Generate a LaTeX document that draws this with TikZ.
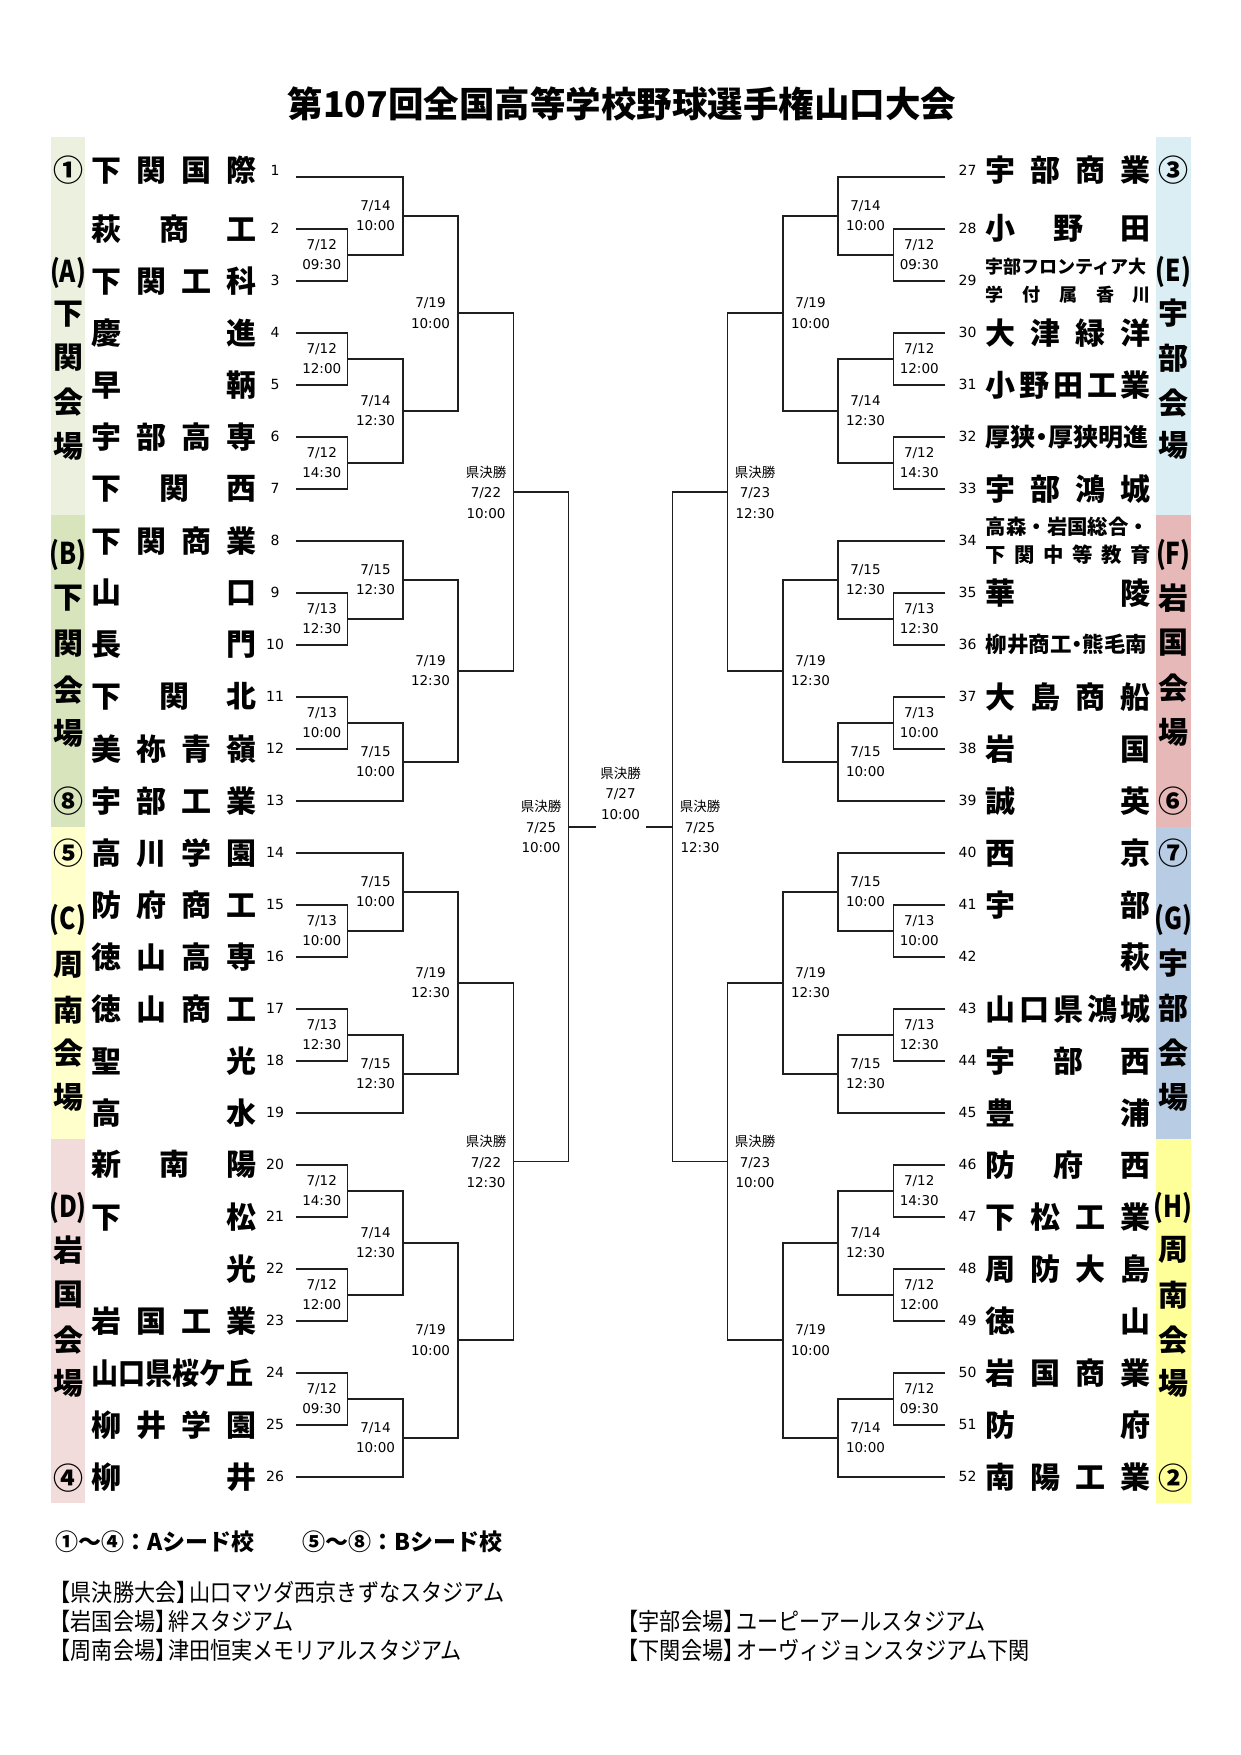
\documentclass[tikz,border=0pt]{standalone}
\usepackage{fontspec}
\usepackage{graphicx}
\newfontfamily\jp{Noto Sans CJK JP}
\newfontfamily\jpnarrow[FakeStretch=0.82]{Noto Sans CJK JP}
\newfontfamily\jpvenue[FakeStretch=0.88]{Noto Sans CJK JP}
\newfontfamily\dv{DejaVu Sans}
\definecolor{venueA}{RGB}{235,241,222}
\definecolor{venueB}{RGB}{216,228,188}
\definecolor{venueC}{RGB}{255,255,204}
\definecolor{venueD}{RGB}{242,220,219}
\definecolor{venueE}{RGB}{218,238,243}
\definecolor{venueF}{RGB}{230,184,183}
\definecolor{venueG}{RGB}{184,204,228}
\definecolor{venueH}{RGB}{255,255,153}
\usetikzlibrary{positioning}

\begin{document}
\begin{tikzpicture}[
  x=1pt, y=-1pt,
  bracket/.style={line width=1.7pt, black!88},
  team/.style={font=\jp\bfseries\fontsize{30}{30}\selectfont, text width=165pt, inner sep=0pt},
  num/.style={font=\dv\fontsize{14}{14}\selectfont, inner sep=0pt},
  date/.style={font=\dv\fontsize{13.5}{20.5}\selectfont, align=center, inner sep=0pt},
  bar/.style={font=\jp\bfseries\fontsize{30}{30}\selectfont, inner sep=0pt},
  plet/.style={font=\jpnarrow\bfseries\fontsize{30}{30}\selectfont, inner sep=0pt},
  seed/.style={font=\jp\bfseries\fontsize{23}{23}\selectfont, anchor=west, inner sep=0pt},
  venue/.style={font=\jpvenue\fontsize{24}{24}\selectfont, anchor=west, inner sep=0pt}
]
  \fill[white] (0,0) rectangle (1241,1755);
  \useasboundingbox (0,0) rectangle (1241,1755);

  % Title
  \node[font=\jp\bfseries\fontsize{35.5}{35.5}\selectfont, inner sep=0pt] (title) at (622,104) {第107回全国高等学校野球選手権山口大会};

  % Venue bars
  \fill[venueA] (51,137) rectangle (85,514.7);
  \fill[venueB] (51,514.7) rectangle (85,826.7);
  \fill[venueC] (51,826.7) rectangle (85,1138.7);
  \fill[venueD] (51,1138.7) rectangle (85,1503);
  \fill[venueE] (1156,137) rectangle (1190.7,514.7);
  \fill[venueF] (1156,514.7) rectangle (1190.7,826.7);
  \fill[venueG] (1156,826.7) rectangle (1190.7,1138.7);
  \fill[venueH] (1156,1138.7) rectangle (1190.7,1503);

  \node[plet] (pA) at (68,273) {(A)};
  \foreach \c/\y [count=\i] in {①/170,下/314,関/358,会/402,場/446}
    \node[bar] (bA\i) at (68,\y) {\c};
  \node[plet] (pB) at (68,555) {(B)};
  \foreach \c/\y [count=\i] in {下/598,関/644,会/690,場/733,⑧/801}
    \node[bar] (bB\i) at (68,\y) {\c};
  \node[plet] (pC) at (68,920) {(C)};
  \foreach \c/\y [count=\i] in {⑤/853,周/965,南/1010,会/1053,場/1097}
    \node[bar] (bC\i) at (68,\y) {\c};
  \node[plet] (pD) at (68,1208) {(D)};
  \foreach \c/\y [count=\i] in {岩/1250,国/1295,会/1340,場/1383,④/1478}
    \node[bar] (bD\i) at (68,\y) {\c};

  \node[plet] (pE) at (1173.3,272) {(E)};
  \foreach \c/\y [count=\i] in {③/170,宇/313,部/358,会/403,場/445}
    \node[bar] (bE\i) at (1173.3,\y) {\c};
  \node[plet] (pF) at (1173.3,555) {(F)};
  \foreach \c/\y [count=\i] in {岩/598,国/643,会/688,場/732,⑥/801}
    \node[bar] (bF\i) at (1173.3,\y) {\c};
  \node[plet] (pG) at (1173.3,920) {(G)};
  \foreach \c/\y [count=\i] in {⑦/853,宇/963,部/1008,会/1053,場/1097}
    \node[bar] (bG\i) at (1173.3,\y) {\c};
  \node[plet] (pH) at (1173.3,1208) {(H)};
  \foreach \c/\y [count=\i] in {周/1250,南/1295,会/1340,場/1383,②/1478}
    \node[bar] (bH\i) at (1173.3,\y) {\c};

  % Team rows: line ends and numbers
  \foreach \k in {1,...,26} {
    \pgfmathsetmacro\ry{124.7+52*\k}
    \pgfmathsetmacro\ny{\k==1 ? 170 : \ry}
    \coordinate (t\k) at (296,\ry);
    \node[num] (k\k) at (275,\ny) {\k};
  }
  \foreach \k in {27,...,52} {
    \pgfmathsetmacro\ry{124.7+52*(\k-26)}
    \pgfmathsetmacro\ny{\k==27 ? 170 : \ry}
    \coordinate (t\k) at (945,\ry);
    \node[num] (k\k) at (967.5,\ny) {\k};
  }

  % Left teams
  \node[team] (n1) at (174,170) {下\hfill 関\hfill 国\hfill 際};
  \node[team] (n2) at (174,228.7) {萩\hfill 商\hfill 工};
  \node[team] (n3) at (174,280.7) {下\hfill 関\hfill 工\hfill 科};
  \node[team] (n4) at (174,332.7) {慶\hfill 進};
  \node[team] (n5) at (174,384.7) {早\hfill 鞆};
  \node[team] (n6) at (174,436.7) {宇\hfill 部\hfill 高\hfill 専};
  \node[team] (n7) at (174,488.7) {下\hfill 関\hfill 西};
  \node[team] (n8) at (174,540.7) {下\hfill 関\hfill 商\hfill 業};
  \node[team] (n9) at (174,592.7) {山\hfill 口};
  \node[team] (n10) at (174,644.7) {長\hfill 門};
  \node[team] (n11) at (174,696.7) {下\hfill 関\hfill 北};
  \node[team] (n12) at (174,748.7) {美\hfill 祢\hfill 青\hfill 嶺};
  \node[team] (n13) at (174,800.7) {宇\hfill 部\hfill 工\hfill 業};
  \node[team] (n14) at (174,852.7) {高\hfill 川\hfill 学\hfill 園};
  \node[team] (n15) at (174,904.7) {防\hfill 府\hfill 商\hfill 工};
  \node[team] (n16) at (174,956.7) {徳\hfill 山\hfill 高\hfill 専};
  \node[team] (n17) at (174,1008.7) {徳\hfill 山\hfill 商\hfill 工};
  \node[team] (n18) at (174,1060.7) {聖\hfill 光};
  \node[team] (n19) at (174,1112.7) {高\hfill 水};
  \node[team] (n20) at (174,1164.7) {新\hfill 南\hfill 陽};
  \node[team] (n21) at (174,1216.7) {下\hfill 松};
  \node[team] (n22) at (174,1268.7) {\hfill 光\hfill};
  \node[team] (n23) at (174,1320.7) {岩\hfill 国\hfill 工\hfill 業};
  \node[team] (n24) at (174,1372.7) {\scalebox{0.9}[1]{山口県桜ケ丘}};
  \node[team] (n25) at (174,1424.7) {柳\hfill 井\hfill 学\hfill 園};
  \node[team] (n26) at (174,1476.7) {柳\hfill 井};

  % Right teams
  \node[team] (n27) at (1068.3,170) {宇\hfill 部\hfill 商\hfill 業};
  \node[team] (n28) at (1068.3,228.7) {小\hfill 野\hfill 田};
  \node[team, font=\jp\bfseries\fontsize{18}{28.3}\selectfont] (n29) at (1068.3,280.7) {宇部フロンティア大\\学\hfill 付\hfill 属\hfill 香\hfill 川};
  \node[team] (n30) at (1068.3,332.7) {大\hfill 津\hfill 緑\hfill 洋};
  \node[team] (n31) at (1068.3,384.7) {小\hfill 野\hfill 田\hfill 工\hfill 業};
  \node[team, font=\jp\bfseries\fontsize{25}{25}\selectfont] (n32) at (1068.3,436.7) {厚狭\kern-.25em・\kern-.25em厚狭明進};
  \node[team] (n33) at (1068.3,488.7) {宇\hfill 部\hfill 鴻\hfill 城};
  \node[team, font=\jp\bfseries\fontsize{20.4}{28.3}\selectfont] (n34) at (1068.3,540.7) {高森・岩国総合・\\下\hfill 関\hfill 中\hfill 等\hfill 教\hfill 育};
  \node[team] (n35) at (1068.3,592.7) {華\hfill 陵};
  \node[team, font=\jp\bfseries\fontsize{21.5}{21.5}\selectfont] (n36) at (1068.3,644.7) {柳井商工\kern-.25em・\kern-.25em熊毛南};
  \node[team] (n37) at (1068.3,696.7) {大\hfill 島\hfill 商\hfill 船};
  \node[team] (n38) at (1068.3,748.7) {岩\hfill 国};
  \node[team] (n39) at (1068.3,800.7) {誠\hfill 英};
  \node[team] (n40) at (1068.3,852.7) {西\hfill 京};
  \node[team] (n41) at (1068.3,904.7) {宇\hfill 部};
  \node[team] (n42) at (1068.3,956.7) {\hfill 萩\hfill};
  \node[team] (n43) at (1068.3,1008.7) {山\hfill 口\hfill 県\hfill 鴻\hfill 城};
  \node[team] (n44) at (1068.3,1060.7) {宇\hfill 部\hfill 西};
  \node[team] (n45) at (1068.3,1112.7) {豊\hfill 浦};
  \node[team] (n46) at (1068.3,1164.7) {防\hfill 府\hfill 西};
  \node[team] (n47) at (1068.3,1216.7) {下\hfill 松\hfill 工\hfill 業};
  \node[team] (n48) at (1068.3,1268.7) {周\hfill 防\hfill 大\hfill 島};
  \node[team] (n49) at (1068.3,1320.7) {徳\hfill 山};
  \node[team] (n50) at (1068.3,1372.7) {岩\hfill 国\hfill 商\hfill 業};
  \node[team] (n51) at (1068.3,1424.7) {防\hfill 府};
  \node[team] (n52) at (1068.3,1476.7) {南\hfill 陽\hfill 工\hfill 業};

  % Match points, left half
  \coordinate (A1) at (347.5,254.7);
  \coordinate (A2) at (347.5,358.7);
  \coordinate (A3) at (347.5,462.7);
  \coordinate (A4) at (403,215.7);
  \coordinate (A5) at (403,410.7);
  \coordinate (A6) at (458,313.2);
  \coordinate (B1) at (347.5,618.7);
  \coordinate (B2) at (347.5,722.7);
  \coordinate (B3) at (403,579.7);
  \coordinate (B4) at (403,761.7);
  \coordinate (B5) at (458,670.7);
  \coordinate (AB) at (513.5,491.95);
  \coordinate (C1) at (347.5,930.7);
  \coordinate (C2) at (347.5,1034.7);
  \coordinate (C3) at (403,891.7);
  \coordinate (C4) at (403,1073.7);
  \coordinate (C5) at (458,982.7);
  \coordinate (D1) at (347.5,1190.7);
  \coordinate (D2) at (347.5,1294.7);
  \coordinate (D3) at (347.5,1398.7);
  \coordinate (D4) at (403,1242.7);
  \coordinate (D5) at (403,1437.7);
  \coordinate (D6) at (458,1340.2);
  \coordinate (CD) at (513.5,1161.45);
  \coordinate (SL) at (568.5,826.7);

  % Match points, right half
  \coordinate (E1) at (893.5,254.7);
  \coordinate (E2) at (893.5,358.7);
  \coordinate (E3) at (893.5,462.7);
  \coordinate (E4) at (838,215.7);
  \coordinate (E5) at (838,410.7);
  \coordinate (E6) at (783,313.2);
  \coordinate (F1) at (893.5,618.7);
  \coordinate (F2) at (893.5,722.7);
  \coordinate (F3) at (838,579.7);
  \coordinate (F4) at (838,761.7);
  \coordinate (F5) at (783,670.7);
  \coordinate (EF) at (727.5,491.95);
  \coordinate (G1) at (893.5,930.7);
  \coordinate (G2) at (893.5,1034.7);
  \coordinate (G3) at (838,891.7);
  \coordinate (G4) at (838,1073.7);
  \coordinate (G5) at (783,982.7);
  \coordinate (H1) at (893.5,1190.7);
  \coordinate (H2) at (893.5,1294.7);
  \coordinate (H3) at (893.5,1398.7);
  \coordinate (H4) at (838,1242.7);
  \coordinate (H5) at (838,1437.7);
  \coordinate (H6) at (783,1340.2);
  \coordinate (GH) at (727.5,1161.45);
  \coordinate (SR) at (672.5,826.7);

  % Final
  \coordinate (fL) at (595.5,826.7);
  \coordinate (fR) at (645.5,826.7);

  % Brackets, left half
  \draw[bracket] (t2) -| (A1) |- (t3);
  \draw[bracket] (t4) -| (A2) |- (t5);
  \draw[bracket] (t6) -| (A3) |- (t7);
  \draw[bracket] (t1) -| (A4) |- (A1);
  \draw[bracket] (A2) -| (A5) |- (A3);
  \draw[bracket] (A4) -| (A6) |- (A5);
  \draw[bracket] (t9) -| (B1) |- (t10);
  \draw[bracket] (t11) -| (B2) |- (t12);
  \draw[bracket] (t8) -| (B3) |- (B1);
  \draw[bracket] (B2) -| (B4) |- (t13);
  \draw[bracket] (B3) -| (B5) |- (B4);
  \draw[bracket] (A6) -| (AB) |- (B5);
  \draw[bracket] (t15) -| (C1) |- (t16);
  \draw[bracket] (t17) -| (C2) |- (t18);
  \draw[bracket] (t14) -| (C3) |- (C1);
  \draw[bracket] (C2) -| (C4) |- (t19);
  \draw[bracket] (C3) -| (C5) |- (C4);
  \draw[bracket] (t20) -| (D1) |- (t21);
  \draw[bracket] (t22) -| (D2) |- (t23);
  \draw[bracket] (t24) -| (D3) |- (t25);
  \draw[bracket] (D1) -| (D4) |- (D2);
  \draw[bracket] (D3) -| (D5) |- (t26);
  \draw[bracket] (D4) -| (D6) |- (D5);
  \draw[bracket] (C5) -| (CD) |- (D6);
  \draw[bracket] (AB) -| (SL) |- (CD);

  % Brackets, right half
  \draw[bracket] (t28) -| (E1) |- (t29);
  \draw[bracket] (t30) -| (E2) |- (t31);
  \draw[bracket] (t32) -| (E3) |- (t33);
  \draw[bracket] (t27) -| (E4) |- (E1);
  \draw[bracket] (E2) -| (E5) |- (E3);
  \draw[bracket] (E4) -| (E6) |- (E5);
  \draw[bracket] (t35) -| (F1) |- (t36);
  \draw[bracket] (t37) -| (F2) |- (t38);
  \draw[bracket] (t34) -| (F3) |- (F1);
  \draw[bracket] (F2) -| (F4) |- (t39);
  \draw[bracket] (F3) -| (F5) |- (F4);
  \draw[bracket] (E6) -| (EF) |- (F5);
  \draw[bracket] (t41) -| (G1) |- (t42);
  \draw[bracket] (t43) -| (G2) |- (t44);
  \draw[bracket] (t40) -| (G3) |- (G1);
  \draw[bracket] (G2) -| (G4) |- (t45);
  \draw[bracket] (G3) -| (G5) |- (G4);
  \draw[bracket] (t46) -| (H1) |- (t47);
  \draw[bracket] (t48) -| (H2) |- (t49);
  \draw[bracket] (t50) -| (H3) |- (t51);
  \draw[bracket] (H1) -| (H4) |- (H2);
  \draw[bracket] (H3) -| (H5) |- (t52);
  \draw[bracket] (H4) -| (H6) |- (H5);
  \draw[bracket] (G5) -| (GH) |- (H6);
  \draw[bracket] (EF) -| (SR) |- (GH);

  \draw[bracket] (SL) -- (fL);
  \draw[bracket] (fR) -- (SR);

  % Dates, left half
  \node[date] (dA1) at ([xshift=-25.75]A1) {7/12\\09:30};
  \node[date] (dA2) at ([xshift=-25.75]A2) {7/12\\12:00};
  \node[date] (dA3) at ([xshift=-25.75]A3) {7/12\\14:30};
  \node[date] (dA4) at ([xshift=-27.5]A4) {7/14\\10:00};
  \node[date] (dA5) at ([xshift=-27.5]A5) {7/14\\12:30};
  \node[date] (dA6) at ([xshift=-27.5]A6) {7/19\\10:00};
  \node[date] (dB1) at ([xshift=-25.75]B1) {7/13\\12:30};
  \node[date] (dB2) at ([xshift=-25.75]B2) {7/13\\10:00};
  \node[date] (dB3) at ([xshift=-27.5]B3) {7/15\\12:30};
  \node[date] (dB4) at ([xshift=-27.5]B4) {7/15\\10:00};
  \node[date] (dB5) at ([xshift=-27.5]B5) {7/19\\12:30};
  \node[date] (dAB) at ([xshift=-27.5]AB) {{\jp 県決勝}\\7/22\\10:00};
  \node[date] (dC1) at ([xshift=-25.75]C1) {7/13\\10:00};
  \node[date] (dC2) at ([xshift=-25.75]C2) {7/13\\12:30};
  \node[date] (dC3) at ([xshift=-27.5]C3) {7/15\\10:00};
  \node[date] (dC4) at ([xshift=-27.5]C4) {7/15\\12:30};
  \node[date] (dC5) at ([xshift=-27.5]C5) {7/19\\12:30};
  \node[date] (dD1) at ([xshift=-25.75]D1) {7/12\\14:30};
  \node[date] (dD2) at ([xshift=-25.75]D2) {7/12\\12:00};
  \node[date] (dD3) at ([xshift=-25.75]D3) {7/12\\09:30};
  \node[date] (dD4) at ([xshift=-27.5]D4) {7/14\\12:30};
  \node[date] (dD5) at ([xshift=-27.5]D5) {7/14\\10:00};
  \node[date] (dD6) at ([xshift=-27.5]D6) {7/19\\10:00};
  \node[date] (dCD) at ([xshift=-27.5]CD) {{\jp 県決勝}\\7/22\\12:30};
  \node[date] (dSL) at ([xshift=-27.5]SL) {{\jp 県決勝}\\7/25\\10:00};

  % Final date
  \node[date] (fin) at (620.5,793) {{\jp 県決勝}\\7/27\\10:00};

  % Dates, right half
  \node[date] (dE1) at ([xshift=25.75]E1) {7/12\\09:30};
  \node[date] (dE2) at ([xshift=25.75]E2) {7/12\\12:00};
  \node[date] (dE3) at ([xshift=25.75]E3) {7/12\\14:30};
  \node[date] (dE4) at ([xshift=27.5]E4) {7/14\\10:00};
  \node[date] (dE5) at ([xshift=27.5]E5) {7/14\\12:30};
  \node[date] (dE6) at ([xshift=27.5]E6) {7/19\\10:00};
  \node[date] (dF1) at ([xshift=25.75]F1) {7/13\\12:30};
  \node[date] (dF2) at ([xshift=25.75]F2) {7/13\\10:00};
  \node[date] (dF3) at ([xshift=27.5]F3) {7/15\\12:30};
  \node[date] (dF4) at ([xshift=27.5]F4) {7/15\\10:00};
  \node[date] (dF5) at ([xshift=27.5]F5) {7/19\\12:30};
  \node[date] (dEF) at ([xshift=27.5]EF) {{\jp 県決勝}\\7/23\\12:30};
  \node[date] (dG1) at ([xshift=25.75]G1) {7/13\\10:00};
  \node[date] (dG2) at ([xshift=25.75]G2) {7/13\\12:30};
  \node[date] (dG3) at ([xshift=27.5]G3) {7/15\\10:00};
  \node[date] (dG4) at ([xshift=27.5]G4) {7/15\\12:30};
  \node[date] (dG5) at ([xshift=27.5]G5) {7/19\\12:30};
  \node[date] (dH1) at ([xshift=25.75]H1) {7/12\\14:30};
  \node[date] (dH2) at ([xshift=25.75]H2) {7/12\\12:00};
  \node[date] (dH3) at ([xshift=25.75]H3) {7/12\\09:30};
  \node[date] (dH4) at ([xshift=27.5]H4) {7/14\\12:30};
  \node[date] (dH5) at ([xshift=27.5]H5) {7/14\\10:00};
  \node[date] (dH6) at ([xshift=27.5]H6) {7/19\\10:00};
  \node[date] (dGH) at ([xshift=27.5]GH) {{\jp 県決勝}\\7/23\\10:00};
  \node[date] (dSR) at ([xshift=27.5]SR) {{\jp 県決勝}\\7/25\\12:30};

  % Notes
  \node[seed] (seedA) at (55,1542) {①～④：Aシード校};
  \node[seed] (seedB) at (302,1542) {⑤～⑧：Bシード校};
  \node[venue] (v1) at (49.5,1592) {【県決勝大会】\kern-.35em 山口マツダ西京きずなスタジアム};
  \node[venue] (v2) at (49.5,1621) {【岩国会場】\kern-.35em 絆スタジアム};
  \node[venue] (v3) at (49.5,1650) {【周南会場】\kern-.35em 津田恒実メモリアルスタジアム};
  \node[venue] (v4) at (617.5,1621) {【宇部会場】\kern-.35em ユーピーアールスタジアム};
  \node[venue] (v5) at (617.5,1650) {【下関会場】\kern-.35em オーヴィジョンスタジアム下関};
\end{tikzpicture}
\end{document}
